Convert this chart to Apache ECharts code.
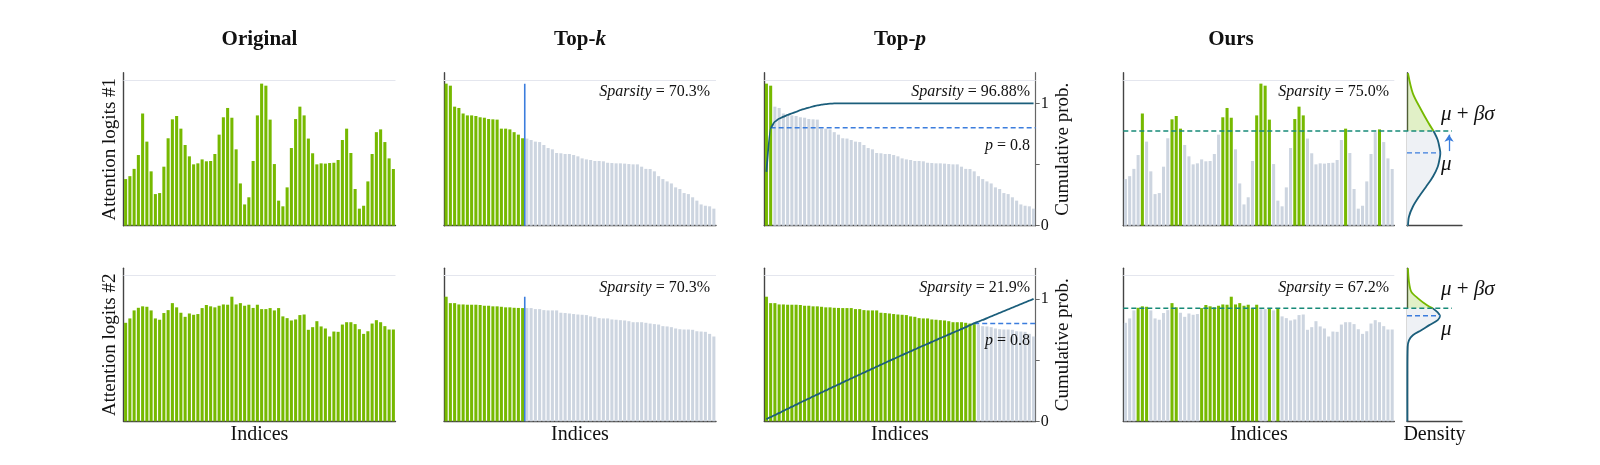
<!DOCTYPE html>
<html>
<head>
<meta charset="utf-8">
<script src="https://cdn.jsdelivr.net/npm/echarts@6/dist/echarts.min.js"></script>
<style>
    html, body { margin: 0; padding: 0; background: #fff; }
    #chart { width: 1600px; height: 465px; }
</style>
</head>
<body>
<div id="chart"></div>
<script>
// ---- data (gridline = 1.0) ----
const indices = Array.from({ length: 64 }, (_, i) => i)

const logits1 = [
    0.32, 0.34, 0.39, 0.485, 0.77, 0.577, 0.373, 0.217, 0.224, 0.405,
    0.60, 0.73, 0.753, 0.666, 0.554, 0.476, 0.421, 0.428, 0.455, 0.442,
    0.444, 0.492, 0.625, 0.744, 0.808, 0.741, 0.524, 0.29, 0.146, 0.195,
    0.444, 0.757, 0.975, 0.961, 0.728, 0.423, 0.172, 0.133, 0.263, 0.533,
    0.732, 0.817, 0.757, 0.598, 0.497, 0.421, 0.428, 0.426, 0.43, 0.432,
    0.451, 0.588, 0.666, 0.499, 0.252, 0.117, 0.137, 0.304, 0.492, 0.642,
    0.661, 0.574, 0.462, 0.389,
]
const logits2 = [
    0.676, 0.706, 0.761, 0.779, 0.789, 0.786, 0.761, 0.706, 0.697, 0.743,
    0.763, 0.811, 0.782, 0.745, 0.717, 0.740, 0.731, 0.736, 0.777, 0.798,
    0.789, 0.782, 0.793, 0.802, 0.800, 0.855, 0.802, 0.811, 0.793, 0.800,
    0.778, 0.800, 0.770, 0.770, 0.777, 0.761, 0.777, 0.720, 0.708, 0.692,
    0.699, 0.729, 0.733, 0.628, 0.646, 0.687, 0.651, 0.637, 0.582, 0.616,
    0.614, 0.664, 0.680, 0.680, 0.667, 0.632, 0.600, 0.618, 0.671, 0.694,
    0.680, 0.653, 0.630, 0.630,
]

// cumulative probability of the sorted logits (Top-p panels)
const cumProb1 = [
    0.44, 0.80, 0.85, 0.875, 0.89, 0.905, 0.918, 0.93, 0.945, 0.955,
    0.965, 0.975, 0.983, 0.989, 0.994, 0.997, 0.999, 1, 1, 1,
    1, 1, 1, 1, 1, 1, 1, 1, 1, 1,
    1, 1, 1, 1, 1, 1, 1, 1, 1, 1,
    1, 1, 1, 1, 1, 1, 1, 1, 1, 1,
    1, 1, 1, 1, 1, 1, 1, 1, 1, 1,
    1, 1, 1, 1,
]
const cumProb2 = [
    0.017, 0.034, 0.051, 0.068, 0.085, 0.102, 0.119, 0.136, 0.153, 0.169,
    0.186, 0.203, 0.219, 0.236, 0.252, 0.269, 0.285, 0.301, 0.318, 0.334,
    0.350, 0.366, 0.382, 0.398, 0.414, 0.430, 0.446, 0.462, 0.478, 0.494,
    0.509, 0.525, 0.541, 0.556, 0.572, 0.587, 0.603, 0.618, 0.633, 0.648,
    0.664, 0.679, 0.694, 0.709, 0.724, 0.739, 0.754, 0.769, 0.786, 0.801,
    0.815, 0.828, 0.842, 0.857, 0.871, 0.886, 0.900, 0.915, 0.929, 0.943,
    0.958, 0.972, 0.986, 1.0,
]

const topK = 19
const topP = 0.8
const oursThreshold = [0.65, 0.775]   // mu + beta*sigma
const oursMu = [0.50, 0.724]

// density curves of "Ours": value (vertical) and pdf (horizontal)
const densValue1 = [1.046, 0.908, 0.794, 0.703, 0.65, 0.588, 0.519, 0.50, 0.474, 0.405, 0.336, 0.268, 0.199, 0.13, 0.062, 0]
const densPdf1 = [0.03, 0.18, 0.44, 0.67, 0.82, 0.95, 1.02, 1.03, 1.02, 0.95, 0.80, 0.59, 0.37, 0.18, 0.06, 0.03]
const densValue2 = [1.05, 0.959, 0.89, 0.844, 0.798, 0.775, 0.747, 0.724, 0.694, 0.66, 0.625, 0.591, 0.556, 0.51, 0.3, 0]
const densPdf2 = [0.03, 0.06, 0.13, 0.34, 0.61, 0.80, 0.95, 1.02, 0.95, 0.69, 0.44, 0.18, 0.06, 0.02, 0.01, 0.01]

const sparsityTopK = ['70.3%', '70.3%']
const sparsityTopP = ['96.88%', '21.9%']
const sparsityOurs = ['75.0%', '67.2%']
const rowNames = ['Attention logits #1', 'Attention logits #2']

// ---- styles ----
const FONT = "'Liberation Serif', 'Times New Roman', serif"
const GREEN = '#76b900'
const GRAY = '#cdd5e0'
const TEAL = '#1b5e7b'
const BLUE = '#3b7ddd'
const THR = '#178a78'
const AXIS = '#444'

const rowTop = [72.7, 268.3]
const rowH = 153
const YMAX = 1.05
const DMAX = 1.7

const grid = []
const xAxis = []
const yAxis = []
const series = []

const txt = (size, extra) => Object.assign({ fontSize: size, fontFamily: FONT, color: '#111' }, extra || {})
const fnt = (size, extra) => Object.assign({ fontSize: size, fontFamily: FONT, fill: '#111' }, extra || {})

function addGrid(left, width, top) {
    grid.push({ left, top, width, height: rowH, outerBoundsMode: 'none' })
    return grid.length - 1
}
function catX(g, name) {
    xAxis.push({
        type: 'category', gridIndex: g, data: indices, boundaryGap: true,
        axisLine: { show: true, onZero: false, lineStyle: { color: AXIS, width: 1.4 } },
        axisTick: { show: false }, axisLabel: { show: false }, splitLine: { show: false },
        name: name || '', nameLocation: 'middle', nameGap: 3, nameTextStyle: txt(20),
    })
    return xAxis.length - 1
}
function valX(g, min, max, show, name) {
    xAxis.push({
        type: 'value', gridIndex: g, min, max, show,
        axisLine: { show: true, onZero: false, lineStyle: { color: AXIS, width: 1.4 } },
        axisTick: { show: false }, axisLabel: { show: false }, splitLine: { show: false },
        name: name || '', nameLocation: 'middle', nameGap: 3, nameTextStyle: txt(20),
    })
    return xAxis.length - 1
}
function leftY(g, show, name) {
    yAxis.push({
        type: 'value', gridIndex: g, min: 0, max: YMAX, show,
        axisLine: { show: true, onZero: false, lineStyle: { color: AXIS, width: 1.4 } },
        axisTick: { show: false }, axisLabel: { show: false }, splitLine: { show: false },
        name: name || '', nameLocation: 'middle', nameGap: 4, nameTextStyle: txt(19),
    })
    return yAxis.length - 1
}
function rightY(g) {
    yAxis.push({
        type: 'value', gridIndex: g, position: 'right', min: 0, max: 1.25, interval: 0.5,
        axisLine: { show: true, onZero: false, lineStyle: { color: '#666', width: 1.2 } },
        axisTick: { show: true, customValues: [0, 0.5, 1], length: 4, lineStyle: { color: '#666' } },
        axisLabel: {
            show: true, customValues: [0, 1], margin: 5, fontSize: 16, fontFamily: FONT, color: '#111',
            formatter: (v) => (v === 0 || v === 1 ? String(v) : ''),
        },
        splitLine: { show: false },
        name: 'Cumulative prob.', nameLocation: 'middle', nameGap: 18, nameTextStyle: txt(19),
    })
    return yAxis.length - 1
}
function bars(xi, yi, vals, colors) {
    series.push({
        type: 'bar', xAxisIndex: xi, yAxisIndex: yi, barCategoryGap: '28%', silent: true,
        data: vals.map((v, i) => ({ value: v, itemStyle: { color: colors[i] } })),
        markLine: {
            silent: true, symbol: 'none', label: { show: false },
            lineStyle: { color: '#e4e6ee', type: 'solid', width: 1 }, data: [{ yAxis: 1 }],
        },
    })
}
function line(xi, yi, data, color, width, type, extra) {
    series.push(Object.assign({
        type: 'line', xAxisIndex: xi, yAxisIndex: yi, data, symbol: 'none', silent: true,
        lineStyle: { color, width, type: type || 'solid' }, z: 3,
    }, extra || {}))
    return series[series.length - 1]
}
function densityShape(api, vals, pdf, thr) {
    const up = []
    const lo = []
    vals.forEach((v, i) => {
        if (v >= thr) up.push([pdf[i], v])
        if (v <= thr) lo.push([pdf[i], v])
    })
    const c = (p) => api.coord(p)
    const upPts = up.map(c)
    const loPts = lo.map(c)
    const fillUp = upPts.concat([c([0, up[up.length - 1][1]]), c([0, up[0][1]])])
    const fillLo = loPts.concat([c([0, lo[lo.length - 1][1]]), c([0, lo[0][1]])])
    return {
        type: 'group',
        children: [
            { type: 'polygon', shape: { points: fillUp }, style: { fill: 'rgba(118,185,0,0.22)', stroke: 'none' } },
            { type: 'polygon', shape: { points: fillLo }, style: { fill: '#eef1f5', stroke: 'none' } },
            { type: 'polyline', shape: { points: upPts, smooth: 0.3 }, style: { stroke: GREEN, lineWidth: 1.8, fill: 'none' } },
            { type: 'polyline', shape: { points: loPts, smooth: 0.3 }, style: { stroke: TEAL, lineWidth: 1.8, fill: 'none' } },
        ],
    }
}

const logits = [logits1, logits2]
const cumProb = [cumProb1, cumProb2]
const densValue = [densValue1, densValue2]
const densPdf = [densPdf1, densPdf2]

for (let r = 0; r < 2; r++) {
    const top = rowTop[r]
    const last = r === 1
    const vals = logits[r]
    const sorted = [...vals].sort((a, b) => b - a)

    // Original
    let g = addGrid(123.5, 272, top)
    bars(catX(g, last ? 'Indices' : ''), leftY(g, true, rowNames[r]), vals, vals.map(() => GREEN))

    // Top-k
    g = addGrid(444, 272, top)
    let cx = catX(g, last ? 'Indices' : '')
    let vx = valX(g, 0, 64, false)
    let ly = leftY(g, true)
    bars(cx, ly, sorted, sorted.map((v, i) => (i < topK ? GREEN : GRAY)))
    line(vx, ly, [[topK, 0], [topK, sorted[0]]], BLUE, 1.6)

    // Top-p
    g = addGrid(764.3, 271.4, top)
    cx = catX(g, last ? 'Indices' : '')
    vx = valX(g, 0, 64, false)
    ly = leftY(g, true)
    const ry = rightY(g)
    const cum = cumProb[r]
    const cross = cum.findIndex((c) => c >= topP)
    bars(cx, ly, sorted, sorted.map((v, i) => (i <= cross ? GREEN : GRAY)))
    line(vx, ry, cum.map((c, i) => [i + 0.5, c]), TEAL, 1.8, 'solid', { smooth: 0.2, smoothMonotone: 'x', z: 4 })
    line(vx, ry, [[cross + 0.5, topP], [64, topP]], BLUE, 1.5, [5, 3])

    // Ours
    const thr = oursThreshold[r]
    const mu = oursMu[r]
    g = addGrid(1123.3, 271, top)
    cx = catX(g, last ? 'Indices' : '')
    ly = leftY(g, true)
    bars(cx, ly, vals, vals.map((v) => (v > thr ? GREEN : GRAY)))

    // density panel
    g = addGrid(1407, 55, top)
    const dx = valX(g, 0, DMAX, true, last ? 'Density' : '')
    const dy = leftY(g, true)
    series.push({
        type: 'custom', xAxisIndex: dx, yAxisIndex: dy, silent: true, data: [[0, 0]],
        renderItem: (params, api) => densityShape(api, densValue[r], densPdf[r], thr),
    })
    const muLine = line(dx, dy, [[0, mu], [Math.max(...densPdf[r]), mu]], BLUE, 1.4, [5, 3])
    if (thr - mu > 0.1) {
        muLine.markLine = {
            silent: true, symbol: ['none', 'arrow'], symbolSize: 7, label: { show: false },
            lineStyle: { color: BLUE, type: 'solid', width: 1.3 },
            data: [[{ coord: [1.3, mu + 0.012] }, { coord: [1.3, thr - 0.025] }]],
        }
    }

    // threshold overlay across Ours + density
    g = addGrid(1123.3, 328.7, top)
    const ox = valX(g, 0, 1, false)
    yAxis.push({ type: 'value', gridIndex: g, min: 0, max: YMAX, show: false })
    line(ox, yAxis.length - 1, [[0, thr], [1, thr]], THR, 1.5, [5, 3])
}

// ---- texts ----
const richS = { i: fnt(16, { fontStyle: 'italic' }), n: fnt(16) }
const richT = { b: fnt(21, { fontWeight: 'bold' }), bi: fnt(21, { fontWeight: 'bold', fontStyle: 'italic' }) }
const richM = { m: fnt(21, { fontStyle: 'italic' }), r: fnt(21) }
const label = (x, y, text, rich, align) => ({
    type: 'text', x, y, z: 100, silent: true,
    style: Object.assign(fnt(16), { text, rich, align: align || 'right', verticalAlign: 'middle' }),
})

const graphic = [
    label(259.5, 40, '{b|Original}', richT, 'center'),
    label(580, 40, '{b|Top-}{bi|k}', richT, 'center'),
    label(900, 40, '{b|Top-}{bi|p}', richT, 'center'),
    label(1231, 40, '{b|Ours}', richT, 'center'),
]
for (let r = 0; r < 2; r++) {
    const dy = r * 195.8
    graphic.push(label(710, 91.7 + dy, `{i|Sparsity}{n| = ${sparsityTopK[r]}}`, richS))
    graphic.push(label(1030, 91.7 + dy, `{i|Sparsity}{n| = ${sparsityTopP[r]}}`, richS))
    graphic.push(label(1389, 91.7 + dy, `{i|Sparsity}{n| = ${sparsityOurs[r]}}`, richS))
    graphic.push(label(1030, [146, 340.7][r], `{i|p}{n| = ${topP}}`, richS))
    graphic.push(label(1441, [114, 289][r], '{m|μ}{r| + }{m|βσ}', richM, 'left'))
    graphic.push(label(1441, [164, 329][r], '{m|μ}', richM, 'left'))
}

const chart = echarts.init(document.getElementById('chart'))
chart.setOption({
    animation: false,
    backgroundColor: '#fff',
    grid, xAxis, yAxis, series, graphic,
})
window.addEventListener('resize', () => chart.resize())
</script>
</body>
</html>
